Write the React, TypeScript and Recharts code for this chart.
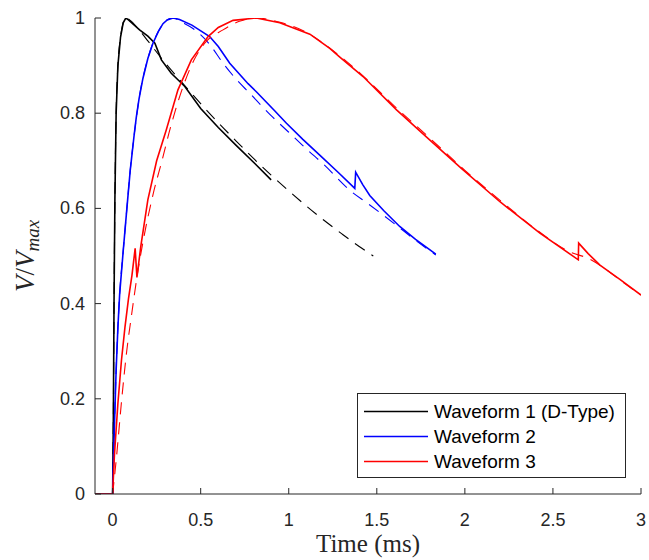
import { LineChart, Line, XAxis, YAxis, Legend } from "recharts";

const xTicks = [0, 0.5, 1, 1.5, 2, 2.5, 3];
const yTicks = [0, 0.2, 0.4, 0.6, 0.8, 1];

// Waveform 1 (D-Type): measured + fitted
const w1Time = [-0.1, 0, 0.004, 0.008, 0.013, 0.02, 0.03, 0.045, 0.06, 0.075, 0.09, 0.12, 0.153, 0.2, 0.24, 0.277, 0.333, 0.41, 0.5, 0.6, 0.7, 0.8, 0.9];
const w1Meas = [0, 0, 0.15, 0.4, 0.62, 0.8, 0.9, 0.96, 0.99, 1.0, 0.996, 0.986, 0.975, 0.962, 0.947, 0.912, 0.884, 0.856, 0.81, 0.77, 0.733, 0.697, 0.66];
const w1FitTime = [0, 0.004, 0.008, 0.013, 0.02, 0.03, 0.045, 0.06, 0.075, 0.1, 0.15, 0.2, 0.3, 0.4, 0.5, 0.6, 0.7, 0.8, 0.9, 1.0, 1.1, 1.2, 1.3, 1.4, 1.48];
const w1Fit = [0, 0.15, 0.4, 0.62, 0.8, 0.9, 0.96, 0.99, 1.0, 0.995, 0.975, 0.952, 0.905, 0.862, 0.82, 0.78, 0.742, 0.705, 0.67, 0.637, 0.605, 0.575, 0.547, 0.52, 0.5];

// Waveform 2
const w2Time = [-0.1, 0, 0.01, 0.02, 0.03, 0.04, 0.06, 0.081, 0.1, 0.121, 0.134, 0.15, 0.172, 0.2, 0.229, 0.26, 0.286, 0.31, 0.343, 0.38, 0.45, 0.551, 0.6, 0.665, 0.769, 0.816, 0.92, 0.987, 1.08, 1.176, 1.28, 1.375, 1.38, 1.42, 1.46, 1.54, 1.63, 1.72, 1.835];
const w2Meas = [0, 0, 0.14, 0.26, 0.35, 0.42, 0.51, 0.6, 0.68, 0.75, 0.79, 0.83, 0.873, 0.915, 0.947, 0.972, 0.988, 0.996, 1.0, 0.997, 0.985, 0.961, 0.94, 0.905, 0.862, 0.845, 0.805, 0.779, 0.745, 0.712, 0.676, 0.642, 0.676, 0.65, 0.627, 0.595, 0.562, 0.535, 0.504];
const w2FitTime = [0, 0.01, 0.02, 0.03, 0.04, 0.06, 0.081, 0.1, 0.121, 0.15, 0.2, 0.26, 0.31, 0.343, 0.4, 0.456, 0.55, 0.627, 0.7, 0.778, 0.9, 1.0, 1.1, 1.2, 1.347, 1.45, 1.61, 1.72, 1.835];
const w2Fit = [0, 0.14, 0.26, 0.35, 0.42, 0.51, 0.6, 0.68, 0.75, 0.83, 0.915, 0.972, 0.996, 1.0, 0.99, 0.978, 0.945, 0.905, 0.872, 0.842, 0.795, 0.76, 0.725, 0.692, 0.638, 0.61, 0.565, 0.533, 0.502];

// Waveform 3
const w3Time = [-0.1, 0, 0.01, 0.03, 0.05, 0.07, 0.09, 0.11, 0.128, 0.138, 0.16, 0.2, 0.25, 0.305, 0.371, 0.447, 0.542, 0.6, 0.684, 0.816, 0.949, 1.12, 1.233, 1.29, 1.422, 1.612, 1.8, 1.98, 2.199, 2.426, 2.644, 2.646, 2.7, 2.767, 2.88, 3.0];
const w3Meas = [0, 0, 0.08, 0.19, 0.28, 0.35, 0.41, 0.46, 0.516, 0.455, 0.52, 0.618, 0.7, 0.765, 0.849, 0.912, 0.961, 0.98, 0.995, 1.0, 0.99, 0.966, 0.936, 0.918, 0.877, 0.807, 0.744, 0.684, 0.614, 0.548, 0.492, 0.527, 0.505, 0.481, 0.451, 0.418];
const w3FitTime = [0, 0.02, 0.053, 0.08, 0.106, 0.14, 0.182, 0.23, 0.28, 0.33, 0.4, 0.46, 0.523, 0.627, 0.72, 0.816, 0.95, 1.1, 1.25, 1.42, 1.6, 1.8, 2.0, 2.2, 2.4, 2.6, 2.7, 2.8, 2.9, 3.0];
const w3Fit = [0, 0.07, 0.204, 0.3, 0.372, 0.46, 0.548, 0.63, 0.7, 0.772, 0.856, 0.91, 0.947, 0.975, 0.993, 1.0, 0.991, 0.97, 0.932, 0.879, 0.815, 0.748, 0.68, 0.617, 0.557, 0.508, 0.495, 0.472, 0.444, 0.418];

const zip = (ts: number[], vs: number[]) => ts.map((t, i) => ({ t, v: vs[i] }));

const series = [
  { name: "Waveform 1 (D-Type)", color: "#000000", meas: zip(w1Time, w1Meas), fit: zip(w1FitTime, w1Fit) },
  { name: "Waveform 2", color: "#0000ff", meas: zip(w2Time, w2Meas), fit: zip(w2FitTime, w2Fit) },
  { name: "Waveform 3", color: "#ff0000", meas: zip(w3Time, w3Meas), fit: zip(w3FitTime, w3Fit) },
];

const AXIS = "#262626";
const SANS = "'Liberation Sans', Arial, sans-serif";
const SERIF = "'Liberation Serif', 'Times New Roman', serif";

const renderXTick = (props: any) => {
  const { x, y, payload } = props;
  return (
    <g>
      <line x1={x} y1={y} x2={x} y2={y - 6} stroke={AXIS} strokeWidth={1} />
      <text x={x} y={y + 26} textAnchor="middle" dominantBaseline="central" fontSize={18} fontFamily={SANS} fill={AXIS}>
        {String(payload.value)}
      </text>
    </g>
  );
};

const renderYTick = (props: any) => {
  const { x, y, payload } = props;
  return (
    <g>
      <line x1={x} y1={y} x2={x + 6} y2={y} stroke={AXIS} strokeWidth={1} />
      <text x={x - 10} y={y} textAnchor="end" dominantBaseline="central" fontSize={18} fontFamily={SANS} fill={AXIS}>
        {String(payload.value)}
      </text>
    </g>
  );
};

const renderXLabel = (props: any) => {
  const vb = props.viewBox || { x: 95, y: 494, width: 546, height: 66 };
  return (
    <text x={vb.x + vb.width / 2} y={vb.y + 58} textAnchor="middle" fontSize={25} fontFamily={SERIF} fill={AXIS}>
      Time (ms)
    </text>
  );
};

const renderYLabel = (props: any) => {
  const vb = props.viewBox || { x: 0, y: 18, width: 95, height: 476 };
  const cx = vb.x + 34;
  const cy = vb.y + vb.height / 2;
  return (
    <text transform={`translate(${cx},${cy}) rotate(-90)`} textAnchor="middle" fontSize={27} fontFamily={SERIF} fill={AXIS}>
      <tspan fontStyle="italic">V</tspan>
      <tspan>/</tspan>
      <tspan fontStyle="italic">V</tspan>
      <tspan fontStyle="italic" fontSize={19} dy={5}>max</tspan>
    </text>
  );
};

const renderLegend = () => (
  <svg width={269} height={85} style={{ display: "block" }}>
    <rect x={0.5} y={0.5} width={268} height={84} fill="#ffffff" stroke={AXIS} strokeWidth={1} />
    {series.map((s, i) => (
      <g key={s.name}>
        <line x1={7} x2={71} y1={18.5 + 25 * i} y2={18.5 + 25 * i} stroke={s.color} strokeWidth={1.5} />
        <text x={77} y={18.5 + 25 * i} dominantBaseline="central" fontSize={19} fontFamily={SANS} fill="#000000">
          {s.name}
        </text>
      </g>
    ))}
  </svg>
);

export default function App() {
  return (
    <div style={{ position: "absolute", left: 0, top: 0, width: 649, height: 560, background: "#ffffff" }}>
      <LineChart width={649} height={560} margin={{ top: 18, right: 8, left: 0, bottom: 0 }} style={{ fontFamily: SANS }}>
        <XAxis
          type="number"
          dataKey="t"
          domain={[-0.1, 3]}
          ticks={xTicks}
          interval={0}
          allowDataOverflow
          height={66}
          tickLine={false}
          tickSize={0}
          tickMargin={0}
          tick={renderXTick}
          stroke={AXIS}
          label={renderXLabel}
        />
        <YAxis
          type="number"
          dataKey="v"
          domain={[0, 1]}
          ticks={yTicks}
          interval={0}
          allowDataOverflow
          width={95}
          tickLine={false}
          tickSize={0}
          tickMargin={0}
          tick={renderYTick}
          stroke={AXIS}
          label={renderYLabel}
        />
        {series.flatMap((s) => [
          <Line
            key={s.name + "-meas"}
            data={s.meas}
            dataKey="v"
            type="linear"
            stroke={s.color}
            strokeWidth={1.6}
            dot={false}
            activeDot={false}
            isAnimationActive={false}
          />,
          <Line
            key={s.name + "-fit"}
            data={s.fit}
            dataKey="v"
            type="monotone"
            stroke={s.color}
            strokeWidth={1.1}
            strokeDasharray="12 8"
            dot={false}
            activeDot={false}
            isAnimationActive={false}
          />,
        ])}
        <Legend
          layout="vertical"
          align="center"
          verticalAlign="middle"
          wrapperStyle={{ left: 357, top: 393, width: 269, height: 85 }}
          content={renderLegend}
        />
      </LineChart>
    </div>
  );
}
